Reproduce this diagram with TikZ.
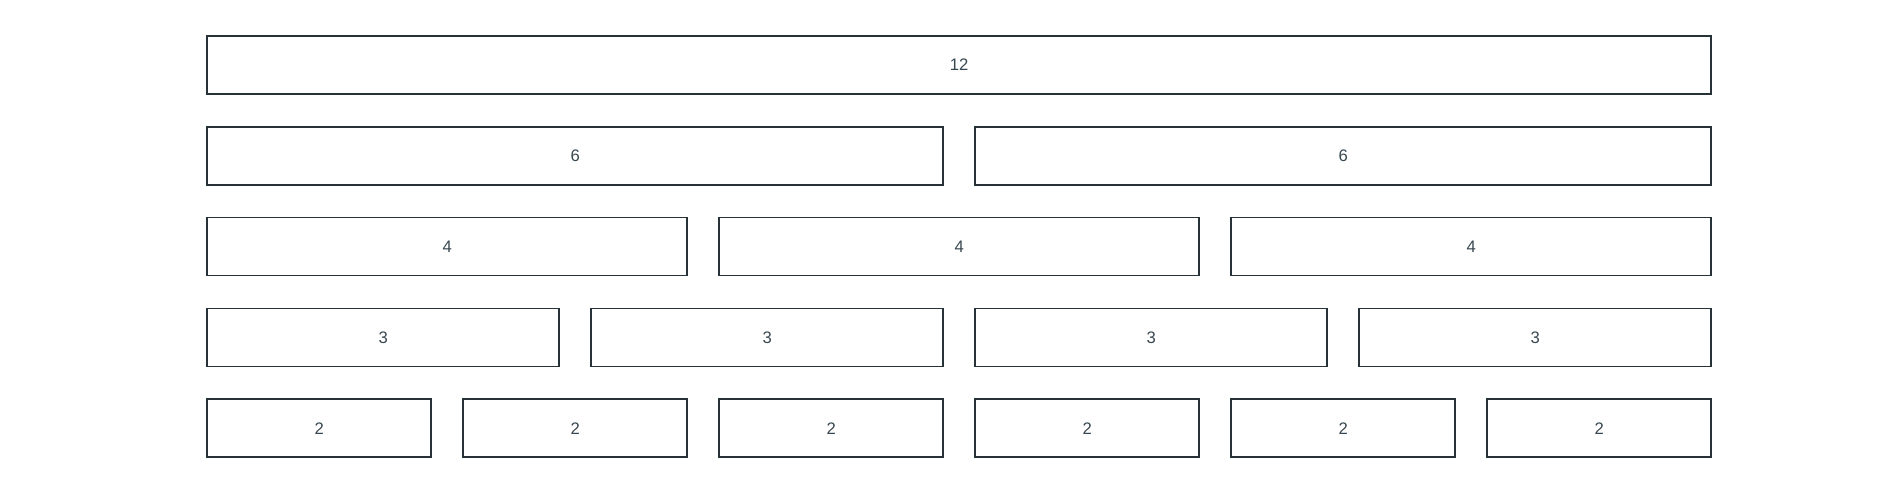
\documentclass[tikz,border=0pt]{standalone}
\usepackage{fontspec}
\setmainfont{Liberation Sans}
\definecolor{cellline}{HTML}{263238}
\definecolor{celltext}{HTML}{37474F}
\tikzset{
	cell/.style={draw=cellline, line width=1.3pt, rectangle, inner sep=0pt,
		minimum height=58*0.75pt, text=celltext,
		font=\fontsize{12.5pt}{14pt}\selectfont}
}
\begin{document}
\begin{tikzpicture}[x=0.75pt, y=-0.75pt]
		\useasboundingbox (0,0) rectangle (1896,497);
		% one row per span: 12, 6, 4, 3 and 2 columns of the grid
		\foreach \cols [count=\row from 0] in {12,6,4,3,2} {
			\pgfmathtruncatemacro{\n}{12/\cols}
			\foreach \i in {1,...,\n} {
				\pgfmathsetmacro{\w}{\cols*128-31.7}
				\pgfmathsetmacro{\cx}{207+(\i-1)*\cols*128+\w/2}
				\node [cell, minimum width=\w*0.75pt] (c\cols-\i) at (\cx, 65+\row*90.8) {\cols};
			}
		}
	\end{tikzpicture}
\end{document}
